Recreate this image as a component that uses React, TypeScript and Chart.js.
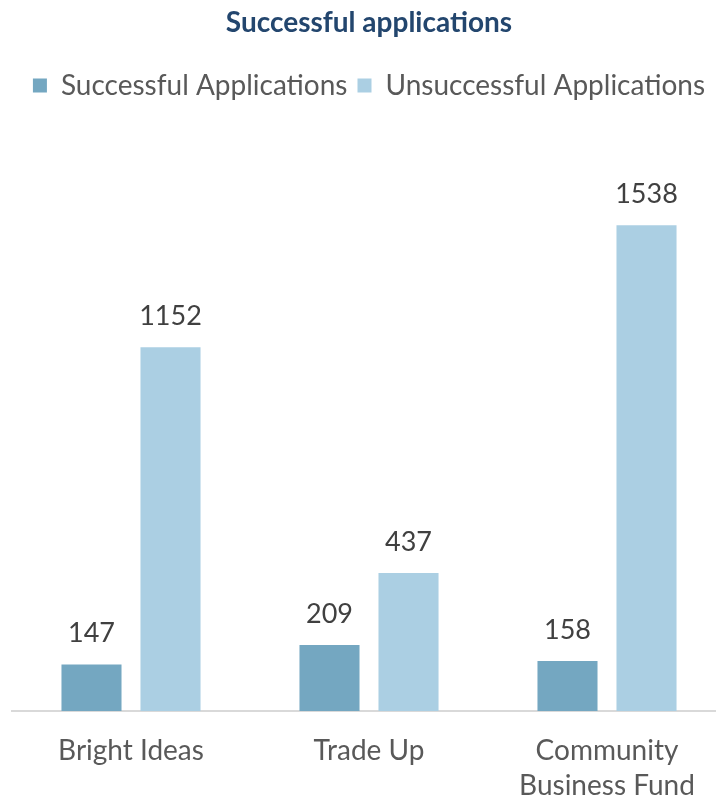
import React, { useEffect, useRef } from "react";
import { Chart, registerables } from "chart.js";

Chart.register(...registerables);

const categories: (string | string[])[] = ["Bright Ideas", "Trade Up", ["Community", "Business Fund"]];
const successful = [147, 209, 158];
const unsuccessful = [1152, 437, 1538];
const seriesNames = ["Successful Applications", "Unsuccessful Applications"];
const titleText = "Successful applications";

const FONT = "Lato, 'Open Sans', sans-serif";

const valueLabels = {
  id: "valueLabels",
  afterDatasetsDraw(chart: any) {
    const ctx = chart.ctx;
    ctx.save();
    ctx.font = `27px ${FONT}`;
    ctx.fillStyle = "#404040";
    ctx.textAlign = "center";
    ctx.textBaseline = "middle";
    chart.data.datasets.forEach((ds: any, i: number) => {
      const meta = chart.getDatasetMeta(i);
      meta.data.forEach((bar: any, j: number) => {
        ctx.fillText(String(ds.data[j]), bar.x, bar.y - 31);
      });
    });
    ctx.restore();
  },
};

const legendMargin = {
  id: "legendMargin",
  beforeInit(chart: any) {
    const orig = chart.legend.fit;
    chart.legend.fit = function () {
      orig.bind(chart.legend)();
      this.height += 33;
    };
  },
};

export default function App() {
  const ref = useRef<HTMLCanvasElement>(null);
  useEffect(() => {
    if (!ref.current) return;
    const chart = new Chart(ref.current, {
      type: "bar",
      data: {
        labels: categories,
        datasets: [
          {
            label: seriesNames[0],
            data: successful,
            backgroundColor: "#74a7c1",
            categoryPercentage: 0.664,
            barPercentage: 0.76,
          },
          {
            label: seriesNames[1],
            data: unsuccessful,
            backgroundColor: "#abcfe3",
            categoryPercentage: 0.664,
            barPercentage: 0.76,
          },
        ],
      },
      options: {
        animation: false,
        responsive: false,
        maintainAspectRatio: false,
        layout: { padding: { left: 12, right: 14, top: 0, bottom: 0 } },
        plugins: {
          title: {
            display: true,
            text: titleText,
            color: "#23466e",
            font: { family: FONT, size: 28, weight: "bold" },
            padding: { top: 6, bottom: 22 },
          },
          legend: {
            display: true,
            position: "top",
            labels: {
              color: "#595959",
              font: { family: FONT, size: 28 },
              boxWidth: 14,
              boxHeight: 14,
              padding: 10,
            },
          },
          tooltip: { enabled: false },
        },
        scales: {
          x: {
            grid: { display: false },
            border: { display: true, color: "#d9d9d9", width: 2 },
            ticks: {
              color: "#595959",
              font: { family: FONT, size: 28, lineHeight: 1.25 },
              padding: 14,
              maxRotation: 0,
              autoSkip: false,
            },
          },
          y: {
            display: false,
            min: 0,
            max: 1800,
          },
        },
      },
      plugins: [valueLabels, legendMargin],
    });
    return () => chart.destroy();
  }, []);
  return (
    <div style={{ position: "absolute", left: 0, top: 0, width: 716, height: 804, overflow: "hidden", background: "#fff" }}>
      <canvas ref={ref} width={740} height={817} style={{ display: "block" }} />
    </div>
  );
}
